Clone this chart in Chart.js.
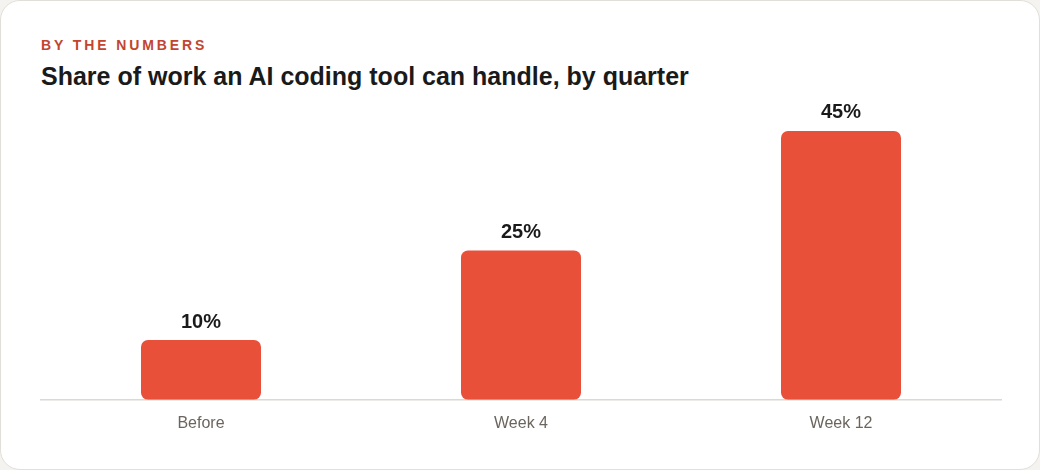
<!DOCTYPE html>
<html>
<head>
<meta charset="utf-8">
<script src="https://cdn.jsdelivr.net/npm/chart.js@4.4.1/dist/chart.umd.min.js"></script>
<style>
    html, body { margin: 0; padding: 0; background: #f4f3f0; }
    .card {
        position: absolute; left: 0; top: 0;
        width: 1038px; height: 468px;
        background: #fff;
        border: 1px solid #e2dfda;
        border-radius: 20px;
        font-family: "Liberation Sans", Arial, sans-serif;
    }
    .kicker {
        position: absolute; left: 40px; top: 36px;
        font-size: 14px; font-weight: bold; letter-spacing: 2.9px;
        color: #c2452f;
    }
    .title {
        position: absolute; left: 40px; top: 61px;
        font-size: 25px; font-weight: bold;
        color: #1a1a1a;
    }
    .chart-box {
        position: absolute; left: 39px; top: 90px;
        width: 962px; height: 348px;
    }
</style>
</head>
<body>
<div class="card">
    <div class="kicker">BY THE NUMBERS</div>
    <div class="title">Share of work an AI coding tool can handle, by quarter</div>
    <div class="chart-box"><canvas id="shareChart"></canvas></div>
</div>

<script>
/****************************** data ********************************/
const categories = ["Before", "Week 4", "Week 12"];
const shareValues = [10, 25, 45];
const barColor = "#e8503a";

/****************************** value labels above bars ********************************/
const valueLabels = {
    id: "valueLabels",
    afterDatasetsDraw(chart) {
        const ctx = chart.ctx;
        const meta = chart.getDatasetMeta(0);
        ctx.save();
        ctx.font = "bold 20px 'Liberation Sans', Arial, sans-serif";
        ctx.fillStyle = "#1a1a1a";
        ctx.textAlign = "center";
        ctx.textBaseline = "bottom";
        meta.data.forEach(function (bar, i) {
            ctx.fillText(shareValues[i] + "%", bar.x, bar.y - 8);
        });
        ctx.restore();
    }
};

/****************************** Share chart ********************************/
new Chart(document.getElementById("shareChart"), {
    type: "bar",
    data: {
        labels: categories,
        datasets: [{
            data: shareValues,
            backgroundColor: barColor,
            borderRadius: 7,
            borderSkipped: false,
            barPercentage: 0.375,
            categoryPercentage: 1
        }]
    },
    options: {
        responsive: true,
        maintainAspectRatio: false,
        animation: false,
        layout: { padding: { top: 10, left: 1, right: 1 } },
        plugins: {
            legend: { display: false },
            tooltip: { enabled: false }
        },
        scales: {
            x: {
                grid: { display: false },
                border: { color: "#dcd8d3", width: 1.5 },
                ticks: {
                    color: "#6b655f",
                    padding: 6,
                    font: { family: "'Liberation Sans', Arial, sans-serif", size: 16 }
                }
            },
            y: {
                display: false,
                min: 0,
                max: 50
            }
        }
    },
    plugins: [valueLabels]
});
</script>
</body>
</html>
